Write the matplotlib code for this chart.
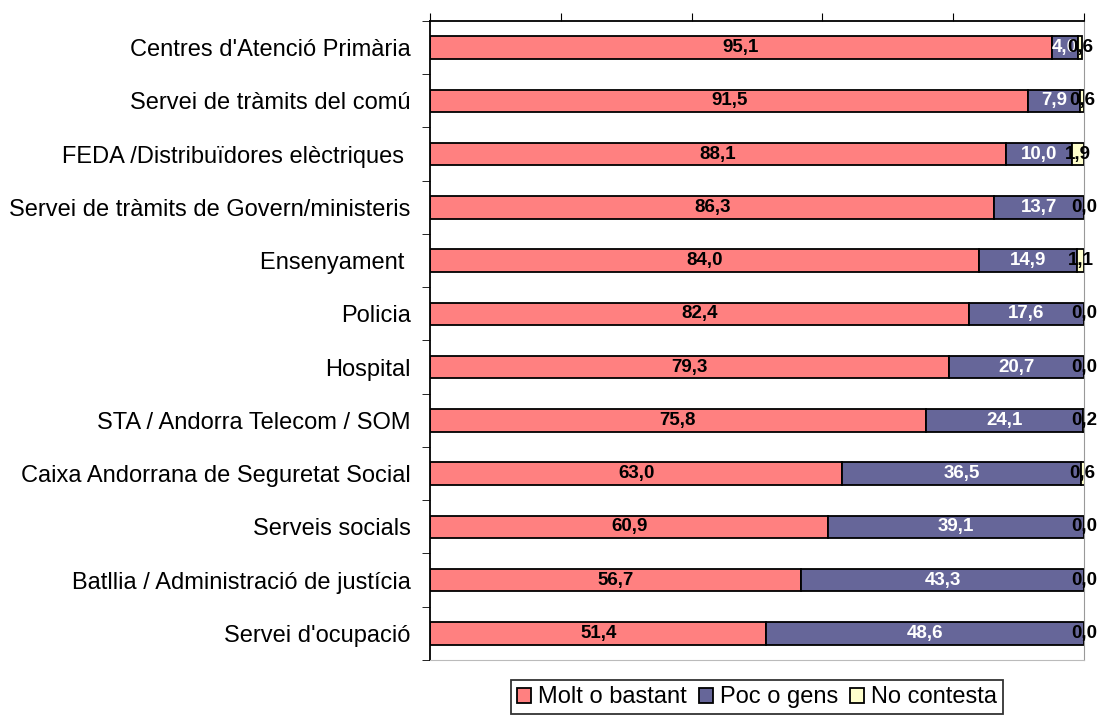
import matplotlib.pyplot as plt
import numpy as np

plt.rcParams['font.family'] = ['Liberation Sans', 'DejaVu Sans']

categories = ["Centres d'Atenció Primària", "Servei de tràmits del comú",
              "FEDA /Distribuïdores elèctriques ", "Servei de tràmits de Govern/ministeris",
              "Ensenyament ", "Policia", "Hospital", "STA / Andorra Telecom / SOM",
              "Caixa Andorrana de Seguretat Social", "Serveis socials",
              "Batllia / Administració de justícia", "Servei d'ocupació"]
molt = [95.1, 91.5, 88.1, 86.3, 84.0, 82.4, 79.3, 75.8, 63.0, 60.9, 56.7, 51.4]
poc = [4.0, 7.9, 10.0, 13.7, 14.9, 17.6, 20.7, 24.1, 36.5, 39.1, 43.3, 48.6]
nc = [0.6, 0.6, 1.9, 0.0, 1.1, 0.0, 0.0, 0.2, 0.6, 0.0, 0.0, 0.0]
series_names = ["Molt o bastant", "Poc o gens", "No contesta"]
colors = ["#FF8080", "#666699", "#FFFFCC"]
text_colors = ["black", "white", "black"]

fig = plt.figure(figsize=(11, 7.18), dpi=100)
ax = fig.add_axes([0.391, 0.0808, 0.5945, 0.89])

y = np.arange(len(categories))
left = np.zeros(len(categories))
for vals, name, col, tc in zip([molt, poc, nc], series_names, colors, text_colors):
    vals = np.array(vals)
    ax.barh(y, vals, left=left, height=0.42, color=col, edgecolor="black",
            linewidth=1.3, label=name)
    for yi, l, v in zip(y, left, vals):
        ax.text(l + v / 2, yi, f"{v:.1f}".replace(".", ","), ha="center", va="center",
                color=tc, fontsize=13.5, fontweight="bold")
    left = left + vals

ax.set_ylim(len(categories) - 0.5, -0.5)
ax.set_xlim(0, 100)
ax.set_yticks(y)
ax.set_yticklabels(categories, fontsize=17)
ax.set_yticks(np.arange(len(categories) + 1) - 0.5, minor=True)
ax.tick_params(axis="y", which="major", length=0, pad=14)
ax.tick_params(axis="y", which="minor", length=6, direction="out")
ax.xaxis.tick_top()
ax.set_xticks([0, 20, 40, 60, 80, 100])
ax.tick_params(axis="x", length=6, direction="out", labeltop=False)
ax.spines["right"].set_color("#999999")
ax.spines["bottom"].set_color("#bbbbbb")
ax.spines["left"].set_linewidth(1.3)
ax.spines["top"].set_linewidth(1.3)

leg = ax.legend(loc="upper center", bbox_to_anchor=(0.5, -0.032), ncol=3, fontsize=17,
                frameon=True, fancybox=False, edgecolor="black", handlelength=0.6,
                handleheight=0.6, handletextpad=0.3, columnspacing=0.5, borderpad=0.25,
                borderaxespad=0)
leg.get_frame().set_linewidth(1.3)

fig.savefig("out.png")
